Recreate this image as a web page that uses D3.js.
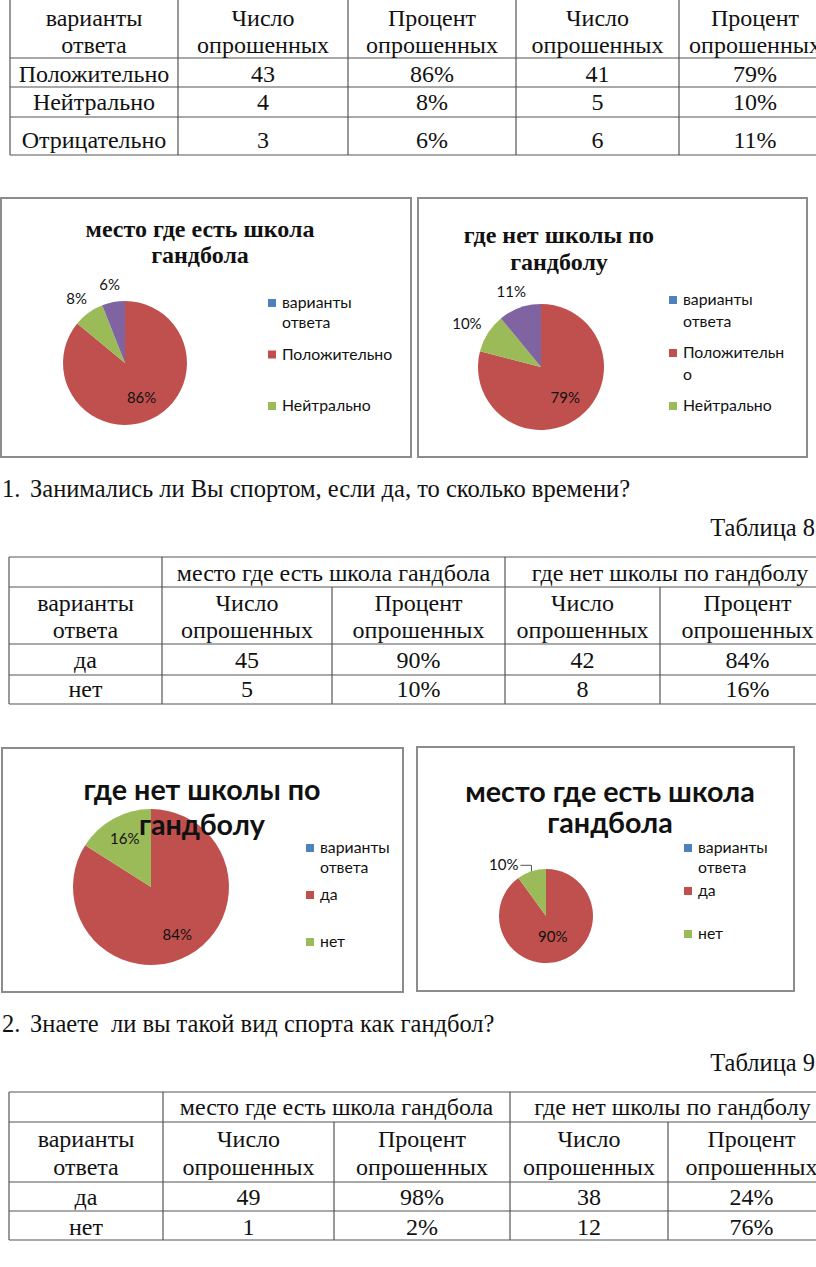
<!DOCTYPE html>
<html>
<head>
<meta charset="utf-8">
<script src="https://cdn.jsdelivr.net/npm/d3@7"></script>
<style>
  body { margin: 0; background: #fff; }
  svg text { fill: #111; }
</style>
</head>
<body>
<svg id="page" width="816" height="1267"></svg>
<script>
// ---- data ----
const answerHead = ["варианты", "ответа"];
const colHeads = [["Число", "опрошенных"], ["Процент", "опрошенных"], ["Число", "опрошенных"], ["Процент", "опрошенных"]];
const groupHeads = ["место где есть школа гандбола", "где нет школы по гандболу"];

// таблица 7 (оценка)
const t1Rows = ["Положительно", "Нейтрально", "Отрицательно"];
const t1CountA = [43, 4, 3];
const t1PctA = [86, 8, 6];
const t1CountB = [41, 5, 6];
const t1PctB = [79, 10, 11];

// таблица 8 (спорт)
const yesNo = ["да", "нет"];
const t2CountA = [45, 5];
const t2PctA = [90, 10];
const t2CountB = [42, 8];
const t2PctB = [84, 16];

// таблица 9 (гандбол)
const t3CountA = [49, 1];
const t3PctA = [98, 2];
const t3CountB = [38, 12];
const t3PctB = [24, 76];

// pie series: first entry is the empty header row, as in the excel sheet
const pie1Cats = ["варианты ответа", "Положительно", "Нейтрально", "Отрицательно"];
const pie1Vals = [0, 86, 8, 6];
const pie2Cats = ["варианты ответа", "Положительно", "Нейтрально", "Отрицательно"];
const pie2Vals = [0, 79, 10, 11];
const pie3Cats = ["варианты ответа", "да", "нет"];
const pie3Vals = [0, 84, 16];
const pie4Cats = ["варианты ответа", "да", "нет"];
const pie4Vals = [0, 90, 10];

const sliceColors = ["#4F81BD", "#C0504D", "#9BBB59", "#8064A2"];

const svg = d3.select("#page");
const SERIF = "'Liberation Serif', 'Times New Roman', serif";
const SANS = "Lato, 'Open Sans', sans-serif";
const tSize = 24;
const bodySize = 24.5;

function txt(g, s, x, y, opts) {
  opts = opts || {};
  return g.append("text").attr("x", x).attr("y", y)
    .attr("text-anchor", opts.anchor || "middle")
    .style("font-family", opts.font || SERIF)
    .style("font-size", (opts.size || tSize) + "px")
    .style("font-weight", opts.weight || "normal")
    .text(s);
}
function line(g, x1, y1, x2, y2, c, w) {
  g.append("line").attr("x1", x1).attr("y1", y1).attr("x2", x2).attr("y2", y2)
    .attr("stroke", c || "#555").attr("stroke-width", w || 1.2);
}

// ---- table 1 (top, header cut by the page edge) ----
function table1() {
  const g = svg.append("g");
  const xs = [10, 178, 348, 516, 679, 831];
  const ys = [-2, 58, 87, 117, 155];
  ys.slice(1).forEach(y => line(g, xs[0], y, 816, y));
  xs.forEach(x => line(g, x, ys[0], x, ys[4]));
  const mid = i => (xs[i] + xs[i + 1]) / 2;
  txt(g, answerHead[0], mid(0), 26);
  txt(g, answerHead[1], mid(0), 53);
  colHeads.forEach((h, i) => { txt(g, h[0], mid(i + 1), 26); txt(g, h[1], mid(i + 1), 53); });
  const base = [82, 110, 148];
  t1Rows.forEach((r, i) => {
    txt(g, r, mid(0), base[i]);
    txt(g, t1CountA[i], mid(1), base[i]);
    txt(g, t1PctA[i] + "%", mid(2), base[i]);
    txt(g, t1CountB[i], mid(3), base[i]);
    txt(g, t1PctB[i] + "%", mid(4), base[i]);
  });
}

// ---- tables 8 and 9 share a layout ----
function table2(xs, ys, base, cA, pA, cB, pB) {
  const g = svg.append("g");
  ys.forEach(y => line(g, xs[0], y, 816, y));
  [0, 1, 3].forEach(i => line(g, xs[i], ys[0], xs[i], ys[4]));
  [2, 4].forEach(i => line(g, xs[i], ys[1], xs[i], ys[4]));
  const mid = i => (xs[i] + xs[i + 1]) / 2;
  txt(g, groupHeads[0], (xs[1] + xs[3]) / 2, base[0]);
  txt(g, groupHeads[1], (xs[3] + xs[5]) / 2, base[0]);
  txt(g, answerHead[0], mid(0), base[1]);
  txt(g, answerHead[1], mid(0), base[2]);
  colHeads.forEach((h, i) => { txt(g, h[0], mid(i + 1), base[1]); txt(g, h[1], mid(i + 1), base[2]); });
  yesNo.forEach((r, i) => {
    const y = base[3 + i];
    txt(g, r, mid(0), y);
    txt(g, cA[i], mid(1), y);
    txt(g, pA[i] + "%", mid(2), y);
    txt(g, cB[i], mid(3), y);
    txt(g, pB[i] + "%", mid(4), y);
  });
}

// ---- pie chart in an excel-like frame ----
function wrapLines(g, s, maxW, size) {
  const probe = g.append("text").style("font-family", SANS).style("font-size", size + "px");
  const w = t => { probe.text(t); return probe.node().getComputedTextLength(); };
  const out = [];
  let cur = "";
  s.split(" ").forEach(word => {
    const trial = cur ? cur + " " + word : word;
    if (w(trial) <= maxW) { cur = trial; return; }
    if (cur) out.push(cur);
    cur = "";
    for (const ch of word) {
      if (w(cur + ch) > maxW && cur) { out.push(cur); cur = ch; } else cur += ch;
    }
  });
  if (cur) out.push(cur);
  probe.remove();
  return out;
}

function pieChart(cats, vals, c) {
  const g = svg.append("g");
  g.append("rect").attr("x", c.box[0]).attr("y", c.box[1])
    .attr("width", c.box[2] - c.box[0]).attr("height", c.box[3] - c.box[1])
    .attr("fill", "#fff").attr("stroke", "#8c8c8c").attr("stroke-width", 2);

  const data = cats.map((k, i) => ({ k, v: vals[i], i }));
  const arcs = d3.pie().value(d => d.v).sort(null)(data);
  const arc = d3.arc().innerRadius(0).outerRadius(c.r);
  const pg = g.append("g").attr("transform", `translate(${c.cx},${c.cy})`);
  pg.selectAll("path").data(arcs).join("path")
    .attr("d", arc).attr("fill", d => sliceColors[d.data.i]);

  const total = d3.sum(vals);
  arcs.filter(d => d.data.v > 0).forEach(d => {
    const pct = Math.round(d.data.v / total * 100);
    const a = (d.startAngle + d.endAngle) / 2;
    const dx = Math.sin(a), dy = -Math.cos(a);
    const s = pct + "%";
    if (pct >= 12) {
      const p = d3.arc().innerRadius(0).outerRadius(c.r * c.inR * 2).centroid(d);
      txt(pg, s, p[0], p[1] + 5, { font: SANS, size: c.lblSize });
    } else if (c.leader) {
      const ex = dx * c.r, ey = dy * c.r;
      pg.append("path").attr("d", `M${ex},${ey}V${ey - 6}H${ex - 11}`)
        .attr("fill", "none").attr("stroke", "#555").attr("stroke-width", 1);
      txt(pg, s, ex - 13, ey - 6 + 5, { font: SANS, size: c.lblSize, anchor: "end" });
    } else {
      const t = txt(pg, s, 0, 0, { font: SANS, size: c.lblSize });
      const tw = t.node().getComputedTextLength();
      const rr = c.r + 10;
      t.attr("x", dx * rr + dx * tw / 2).attr("y", dy * rr + dy * 7 + 5);
    }
  });

  c.title.lines.forEach((l, i) => txt(g, l, c.title.x, c.title.y[i],
    { font: c.title.font, size: c.title.size, weight: "bold" }));

  const shown = data.slice(0, 3);
  const ly = d3.scalePoint().domain(shown.map(d => d.k)).range(c.legend.y);
  shown.forEach(d => {
    const y = ly(d.k);
    g.append("rect").attr("x", c.legend.x).attr("y", y - 5 - 4)
      .attr("width", 8).attr("height", 8).attr("fill", sliceColors[d.i]);
    wrapLines(g, d.k, c.legend.maxW, c.legend.size).forEach((l, j) =>
      txt(g, l, c.legend.x + 14, y + j * c.legend.lh, { font: SANS, size: c.legend.size, anchor: "start" }));
  });
}

table1();

pieChart(pie1Cats, pie1Vals, {
  box: [1, 198, 411, 457], cx: 125, cy: 363, r: 62, inR: 0.63, lblSize: 15,
  title: { lines: ["место где есть школа", "гандбола"], x: 200, y: [237, 263], font: SERIF, size: 24 },
  legend: { x: 268, y: [308, 411], maxW: 118, size: 15.8, lh: 20 }
});
pieChart(pie2Cats, pie2Vals, {
  box: [418, 198, 807, 457], cx: 541, cy: 367, r: 63, inR: 0.63, lblSize: 15,
  title: { lines: ["где нет школы по", "гандболу"], x: 559, y: [243, 270], font: SERIF, size: 24 },
  legend: { x: 669, y: [305, 411], maxW: 106, size: 15.8, lh: 22 }
});

txt(svg, "1.", 2, 497, { anchor: "start", size: bodySize });
txt(svg, "Занимались ли Вы спортом, если да, то сколько времени?", 30, 497, { anchor: "start", size: bodySize });
txt(svg, "Таблица 8", 815, 536, { anchor: "end", size: bodySize });

table2([9, 162, 332, 505, 660, 835], [557, 587, 644, 675, 704], [581, 611, 638, 668, 697],
  t2CountA, t2PctA, t2CountB, t2PctB);

pieChart(pie3Cats, pie3Vals, {
  box: [2, 748, 403, 992], cx: 151, cy: 887, r: 78, inR: 0.7, lblSize: 15,
  title: { lines: ["где нет школы по", "гандболу"], x: 202, y: [800, 835], font: SANS, size: 28.7 },
  legend: { x: 306, y: [853, 947], maxW: 80, size: 15.8, lh: 20 }
});
pieChart(pie4Cats, pie4Vals, {
  box: [417, 747, 794, 991], cx: 546, cy: 916, r: 47, inR: 0.47, lblSize: 15, leader: true,
  title: { lines: ["место где есть школа", "гандбола"], x: 610, y: [802, 833], font: SANS, size: 28.7 },
  legend: { x: 684, y: [853, 939], maxW: 92, size: 15.8, lh: 20 }
});

txt(svg, "2.", 2, 1032, { anchor: "start", size: bodySize });
txt(svg, "Знаете  ли вы такой вид спорта как гандбол?", 30, 1032, { anchor: "start", size: bodySize }).style("white-space", "pre");
txt(svg, "Таблица 9", 815, 1071, { anchor: "end", size: bodySize });

table2([9, 163, 334, 510, 668, 835], [1092, 1122, 1182, 1211, 1240], [1115, 1147, 1175, 1205, 1235],
  t3CountA, t3PctA, t3CountB, t3PctB);
</script>
</body>
</html>
